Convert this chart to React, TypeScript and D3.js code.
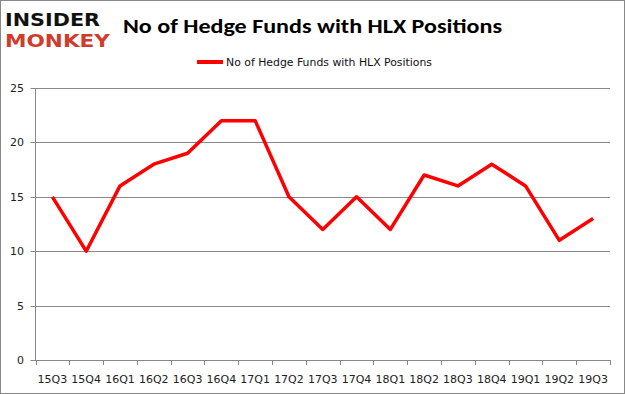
import React from 'react';
import * as d3 from 'd3';

const quarters = ['15Q3', '15Q4', '16Q1', '16Q2', '16Q3', '16Q4', '17Q1', '17Q2', '17Q3', '17Q4', '18Q1', '18Q2', '18Q3', '18Q4', '19Q1', '19Q2', '19Q3'];
const funds = [15, 10, 16, 18, 19, 22, 22, 15, 12, 15, 12, 17, 16, 18, 16, 11, 13];
const yTicks = [0, 5, 10, 15, 20, 25];

const W = 625, H = 394;
const left = 35.5, right = 610, top = 88, bottom = 360;

export default function App() {
  const x = d3.scaleBand<string>().domain(quarters).range([left, right]);
  const y = d3.scaleLinear().domain([0, 25]).range([bottom, top]);
  const line = d3.line<number>()
    .x((_, i) => (x(quarters[i]) || 0) + x.bandwidth() / 2)
    .y(d => y(d));
  const font = 'Verdana, "DejaVu Sans", sans-serif';

  return (
    <svg width={W} height={H} style={{ position: 'absolute', left: 0, top: 0 }}>
      <rect x={0.5} y={0.5} width={W - 1} height={H - 1} fill="#fff" stroke="#888" />
      {/* logo */}
      <text x={5} y={26} fontFamily='"DejaVu Sans", sans-serif' fontWeight="bold" fontSize={17} fill="#111" textLength={95} lengthAdjust="spacingAndGlyphs">INSIDER</text>
      <text x={5} y={47} fontFamily='"DejaVu Sans", sans-serif' fontWeight="bold" fontSize={17} fill="#d13b2a" textLength={105} lengthAdjust="spacingAndGlyphs">MONKEY</text>
      {/* title */}
      <text x={123} y={33} fontFamily='Carlito, Calibri, "Open Sans", sans-serif' fontWeight="bold" fontSize={21} fill="#000" textLength={379} lengthAdjust="spacingAndGlyphs">No of Hedge Funds with HLX Positions</text>
      {/* legend */}
      <line x1={197} x2={223} y1={62} y2={62} stroke="#ff0000" strokeWidth={4} />
      <text x={226} y={66} fontFamily={font} fontSize={11} fill="#111" textLength={206} lengthAdjust="spacingAndGlyphs">No of Hedge Funds with HLX Positions</text>
      {/* grid */}
      {yTicks.map(t => (
        <g key={t}>
          <line x1={left - 5} x2={right} y1={Math.round(y(t)) + 0.5} y2={Math.round(y(t)) + 0.5} stroke="#888" />
          <text x={24} y={y(t) + 4} textAnchor="end" fontFamily={font} fontSize={11} fill="#222">{t}</text>
        </g>
      ))}
      <line x1={left} x2={left} y1={top} y2={bottom} stroke="#888" />
      {/* x axis ticks */}
      {quarters.map((q, i) => {
        const bx = Math.round(x(q) || 0) + 0.5;
        return (
          <g key={q}>
            <line x1={bx} x2={bx} y1={bottom} y2={bottom + 5} stroke="#888" />
            {i === quarters.length - 1 && (
              <line x1={right + 0.5} x2={right + 0.5} y1={bottom} y2={bottom + 5} stroke="#888" />
            )}
            <text x={(x(q) || 0) + x.bandwidth() / 2} y={383} textAnchor="middle" fontFamily={font} fontSize={11} fill="#222">{q}</text>
          </g>
        );
      })}
      <path d={line(funds) || ''} fill="none" stroke="#ff0000" strokeWidth={3.5} strokeLinejoin="round" />
    </svg>
  );
}
